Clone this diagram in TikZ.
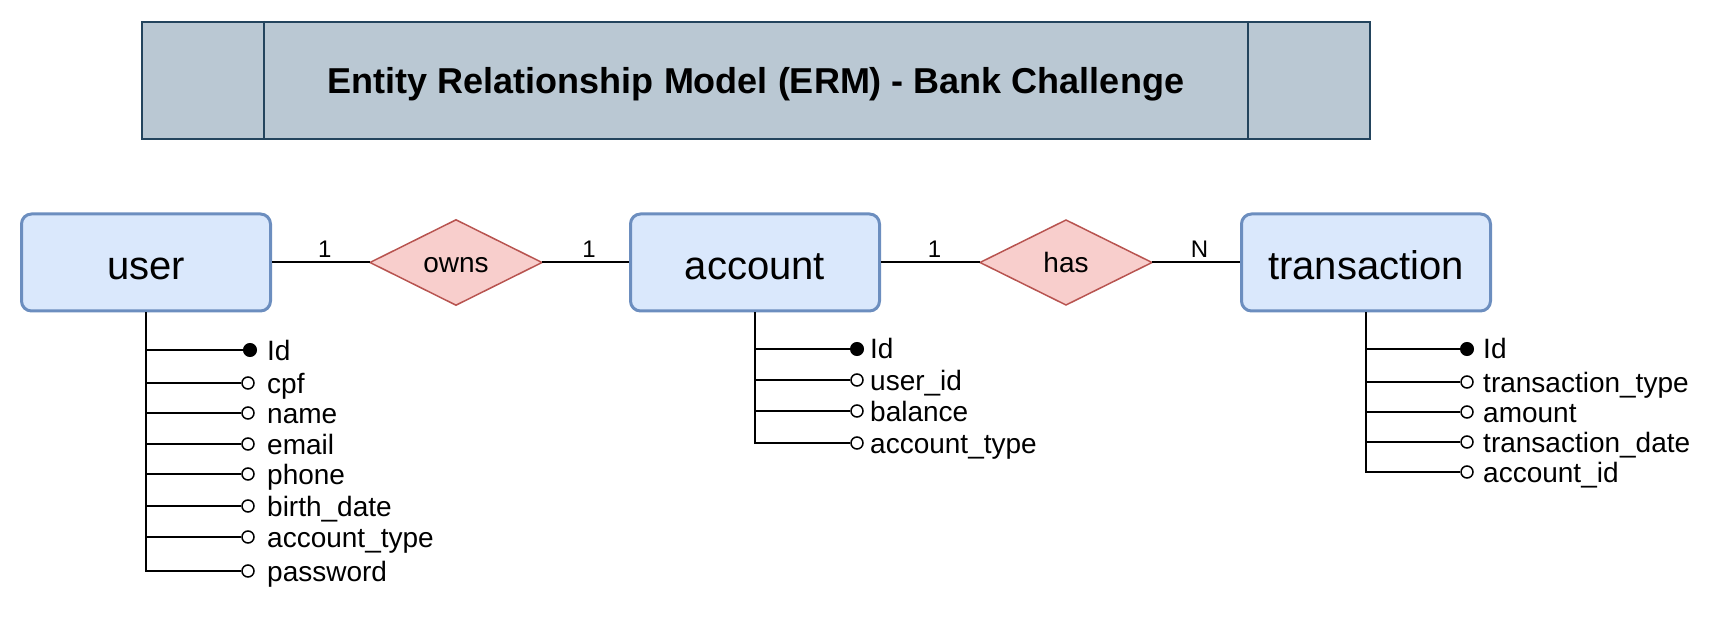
\documentclass[tikz,border=0pt]{standalone}
\usepackage{fontspec}
\setmainfont{Liberation Sans}
\usetikzlibrary{shapes.geometric}
\definecolor{entfill}{HTML}{DAE8FC}
\definecolor{entline}{HTML}{6C8EBF}
\definecolor{relfill}{HTML}{F8CECC}
\definecolor{relline}{HTML}{B85450}
\definecolor{titlefill}{HTML}{BAC8D3}
\definecolor{titleline}{HTML}{23445D}
\begin{document}
\begin{tikzpicture}[x=1pt, y=-1pt,
    title/.style={draw=titleline, fill=titlefill, line width=2pt, minimum width=1228pt, minimum height=117pt, font=\bfseries\fontsize{36}{43}\selectfont, text height=26pt, text depth=0pt},
    entity/.style={draw=entline, fill=entfill, line width=3pt, rounded corners=10pt, minimum width=249pt, minimum height=97pt, font=\fontsize{40}{48}\selectfont, text height=34pt, text depth=0pt},
    rel/.style={diamond, draw=relline, fill=relfill, line width=1.5pt, minimum width=172pt, minimum height=85pt, inner sep=0pt, outer sep=0pt, font=\fontsize{28}{33}\selectfont, text height=20pt, text depth=0pt},
    attr/.style={anchor=west, inner sep=0pt, text height=20pt, text depth=0pt, font=\fontsize{28}{33}\selectfont},
    pk/.style={circle, draw=black, fill=black, line width=1pt, inner sep=0pt, minimum size=13pt},
    fk/.style={circle, draw=black, fill=white, line width=1.5pt, inner sep=0pt, minimum size=12pt},
    card/.style={above, pos=0.54, inner sep=5pt, outer sep=0pt, font=\fontsize{24}{28}\selectfont},
    conn/.style={line width=2pt}]
    \useasboundingbox (0,0) rectangle (1730,620);
    \node[title] (title) at (756,80.5) {Entity Relationship Model (ERM) - Bank Challenge};
    \draw[titleline, line width=2pt] ([xshift=123pt]title.north west) -- ([xshift=123pt]title.south west);
    \draw[titleline, line width=2pt] ([xshift=-123pt]title.north east) -- ([xshift=-123pt]title.south east);
    \node[entity] (user) at (146,262.5) {user};
    \node[entity] (account) at (755,262.5) {account};
    \node[entity] (transaction) at (1366,262.5) {transaction};
    \node[rel] (owns) at (456,262.5) {owns};
    \node[rel] (has) at (1066,262.5) {has};
    \draw[conn] (user) -- node[card] {1} (owns);
    \draw[conn] (owns) -- node[card] {1} (account);
    \draw[conn] (account) -- node[card] {1} (has);
    \draw[conn] (has) -- node[card] {N} (transaction);
    \node[pk] (ud1) at (250,350) {};
    \node[fk] (ud2) at (248,383) {};
    \node[fk] (ud3) at (248,413) {};
    \node[fk] (ud4) at (248,444) {};
    \node[fk] (ud5) at (248,474) {};
    \node[fk] (ud6) at (248,506) {};
    \node[fk] (ud7) at (248,537) {};
    \node[fk] (ud8) at (248,571) {};
    \node[attr] (ua1) at (267,350) {Id};
    \node[attr] (ua2) at (267,383) {cpf};
    \node[attr] (ua3) at (267,413) {name};
    \node[attr] (ua4) at (267,444) {email};
    \node[attr] (ua5) at (267,474) {phone};
    \node[attr] (ua6) at (267,506) {birth\_date};
    \node[attr] (ua7) at (267,537) {account\_type};
    \node[attr] (ua8) at (267,571) {password};
    \draw[conn] (user.south) |- (ud1);
    \draw[conn] (user.south) |- (ud2);
    \draw[conn] (user.south) |- (ud3);
    \draw[conn] (user.south) |- (ud4);
    \draw[conn] (user.south) |- (ud5);
    \draw[conn] (user.south) |- (ud6);
    \draw[conn] (user.south) |- (ud7);
    \draw[conn] (user.south) |- (ud8);
    \node[pk] (ad1) at (857,349) {};
    \node[fk] (ad2) at (857,380) {};
    \node[fk] (ad3) at (857,411) {};
    \node[fk] (ad4) at (857,443) {};
    \node[attr] (aa1) at (870,349) {Id};
    \node[attr] (aa2) at (870,380) {user\_id};
    \node[attr] (aa3) at (870,411) {balance};
    \node[attr] (aa4) at (870,443) {account\_type};
    \draw[conn] (account.south) |- (ad1);
    \draw[conn] (account.south) |- (ad2);
    \draw[conn] (account.south) |- (ad3);
    \draw[conn] (account.south) |- (ad4);
    \node[pk] (td1) at (1467,349) {};
    \node[fk] (td2) at (1467,382) {};
    \node[fk] (td3) at (1467,412) {};
    \node[fk] (td4) at (1467,442) {};
    \node[fk] (td5) at (1467,472) {};
    \node[attr] (ta1) at (1483,349) {Id};
    \node[attr] (ta2) at (1483,382) {transaction\_type};
    \node[attr] (ta3) at (1483,412) {amount};
    \node[attr] (ta4) at (1483,442) {transaction\_date};
    \node[attr] (ta5) at (1483,472) {account\_id};
    \draw[conn] (transaction.south) |- (td1);
    \draw[conn] (transaction.south) |- (td2);
    \draw[conn] (transaction.south) |- (td3);
    \draw[conn] (transaction.south) |- (td4);
    \draw[conn] (transaction.south) |- (td5);
\end{tikzpicture}
\end{document}
